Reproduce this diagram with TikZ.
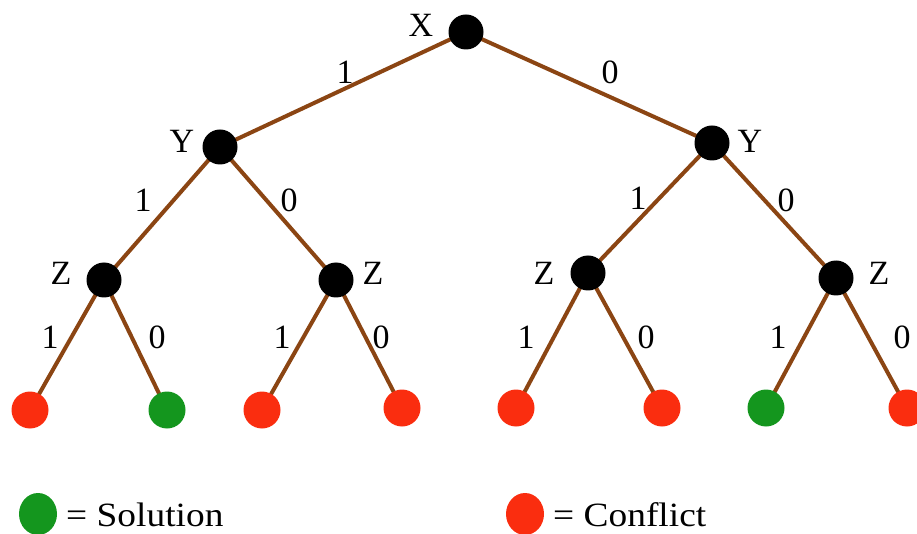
\documentclass[tikz,border=0pt]{standalone}
\usepackage{fontspec}
\setmainfont{Liberation Serif}
\usetikzlibrary{backgrounds,shapes.geometric}
\definecolor{edgebrown}{RGB}{139,69,19}
\definecolor{solgreen}{RGB}{20,150,30}
\definecolor{confred}{RGB}{250,45,15}
\begin{document}
\begin{tikzpicture}[x=1pt,y=1pt,
  var/.style={circle,fill=black,minimum size=35pt,inner sep=0pt},
  sol/.style={circle,fill=solgreen,minimum size=37pt,inner sep=0pt},
  bad/.style={circle,fill=confred,minimum size=37pt,inner sep=0pt},
  legdot/.style={ellipse,minimum width=38pt,minimum height=42pt,inner sep=0pt},
  lbl/.style={font=\fontsize{34}{38}\selectfont,inner sep=0pt},
  branch/.style={draw=edgebrown,line width=4pt}]
\useasboundingbox (0,0) rectangle (917,533);
% variable nodes (y = 533 - image y)
\node[var] (x) at (466,501) {};
\node[var] (y1) at (220,386) {};
\node[var] (y0) at (712,390) {};
\node[var] (z11) at (104,253) {};
\node[var] (z10) at (336,253) {};
\node[var] (z01) at (588,260) {};
\node[var] (z00) at (836,255) {};
% leaves
\node[bad] (l1) at (30,123) {};
\node[sol] (l2) at (167,123) {};
\node[bad] (l3) at (262,123) {};
\node[bad] (l4) at (402,125) {};
\node[bad] (l5) at (516,125) {};
\node[bad] (l6) at (662,125) {};
\node[sol] (l7) at (766,125) {};
\node[bad] (l8) at (907,125) {};
% edges
\begin{scope}[on background layer]
\draw[branch] (x.center) -- (y1.center);
\draw[branch] (x.center) -- (y0.center);
\draw[branch] (y1.center) -- (z11.center);
\draw[branch] (y1.center) -- (z10.center);
\draw[branch] (y0.center) -- (z01.center);
\draw[branch] (y0.center) -- (z00.center);
\draw[branch] (z11.center) -- (l1.center);
\draw[branch] (z11.center) -- (l2.center);
\draw[branch] (z10.center) -- (l3.center);
\draw[branch] (z10.center) -- (l4.center);
\draw[branch] (z01.center) -- (l5.center);
\draw[branch] (z01.center) -- (l6.center);
\draw[branch] (z00.center) -- (l7.center);
\draw[branch] (z00.center) -- (l8.center);
\end{scope}
% variable labels
\node[lbl] (tx) at (421,508) {X};
\node[lbl] (ty1) at (182,392) {Y};
\node[lbl] (ty0) at (750,392) {Y};
\node[lbl] (tz11) at (61,260) {Z};
\node[lbl] (tz10) at (373,260) {Z};
\node[lbl] (tz01) at (544,260) {Z};
\node[lbl] (tz00) at (879,260) {Z};
% branch labels
\node[lbl] (e1) at (345,461) {1};
\node[lbl] (e2) at (610,461) {0};
\node[lbl] (e3) at (143,333) {1};
\node[lbl] (e4) at (289,333) {0};
\node[lbl] (e5) at (638,335) {1};
\node[lbl] (e6) at (786,333) {0};
\node[lbl] (e7) at (50,196) {1};
\node[lbl] (e8) at (157,196) {0};
\node[lbl] (e9) at (282,196) {1};
\node[lbl] (e10) at (381,196) {0};
\node[lbl] (e11) at (526,196) {1};
\node[lbl] (e12) at (646,196) {0};
\node[lbl] (e13) at (778,196) {1};
\node[lbl] (e14) at (902,196) {0};
% legend
\node[legdot,fill=solgreen] (ls) at (38,19) {};
\node[lbl,anchor=base west,xscale=1.1] (lst) at (66,7) {= Solution};
\node[legdot,fill=confred] (lc) at (525,19) {};
\node[lbl,anchor=base west,xscale=1.1] (lct) at (553,7) {= Conflict};
\end{tikzpicture}
\end{document}
